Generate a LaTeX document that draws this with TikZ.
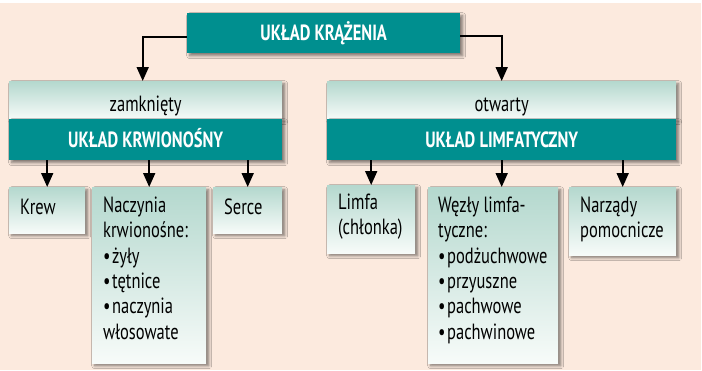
\documentclass[tikz,border=0pt]{standalone}
\usepackage{fontspec}
\setmainfont{PT Sans}[FakeStretch=0.75]
\usetikzlibrary{arrows.meta, shadows.blur}
\definecolor{turkus}{RGB}{0,143,143}
\definecolor{jasny}{RGB}{180,216,206}
\definecolor{biel}{RGB}{247,251,249}
\definecolor{tlo}{RGB}{252,234,222}
\newcommand{\zwykly}{\fontsize{22}{25.3}\selectfont}
\newcommand{\kropka}{•\kern1.5pt}
\tikzset{
	cien/.style={blur shadow={shadow xshift=2.5pt, shadow yshift=-2.5pt, shadow blur radius=3pt, shadow opacity=50}},
	ciemny/.style={cien, fill=turkus, text=white, font=\zwykly\bfseries, inner sep=0, anchor=north west, text height=15pt, text depth=0pt},
	jasnyblok/.style={cien, top color=jasny, bottom color=biel, inner sep=0, anchor=north west},
	naglowek/.style={jasnyblok, font=\zwykly, text height=23pt, text depth=0pt},
	opis/.style={font=\zwykly, align=left, inner sep=0, anchor=north west, execute at begin node=\strut},
	strzalka/.style={-{Triangle[width=12pt,length=14pt]}, line width=1.8pt}
}
\begin{document}
\begin{tikzpicture}[x=1pt, y=-1pt]
	\fill[white] (0,0) rectangle (702,370);
	\fill[tlo] (0,3) rectangle (701,370);

	\node[ciemny, minimum width=273pt, minimum height=40pt] (krazenie) at (187,13) {UKŁAD KRĄŻENIA};

	\node[naglowek, minimum width=273pt, minimum height=38pt] (zamk) at (9,81) {zamknięty};
	\node[ciemny, minimum width=273pt, minimum height=41pt] (krwio) at (9,119) {UKŁAD KRWIONOŚNY};
	\node[naglowek, minimum width=349pt, minimum height=38pt] (otw) at (327,81) {otwarty};
	\node[ciemny, minimum width=349pt, minimum height=41pt] (limf) at (327,119) {UKŁAD LIMFATYCZNY};

	\node[jasnyblok, minimum width=76pt, minimum height=46pt] (krew) at (9,187) {};
	\node[jasnyblok, minimum width=114pt, minimum height=176pt] (naczynia) at (92,187) {};
	\node[jasnyblok, minimum width=69pt, minimum height=46pt] (serce) at (213,187) {};
	\node[jasnyblok, minimum width=88pt, minimum height=68pt] (limfa) at (327,185) {};
	\node[jasnyblok, minimum width=130pt, minimum height=176pt] (wezly) at (428,187) {};
	\node[jasnyblok, minimum width=107pt, minimum height=68pt] (narzady) at (569,187) {};

	\node[opis] (krewtxt) at ([shift={(11pt,-9.8pt)}]krew.north west) {Krew};
	\node[opis] (naczyniatxt) at ([shift={(11pt,-9.8pt)}]naczynia.north west) {Naczynia\\krwionośne:\\\kropka żyły\\\kropka tętnice\\\kropka naczynia\\włosowate};
	\node[opis] (sercetxt) at ([shift={(11pt,-9.8pt)}]serce.north west) {Serce};
	\node[opis] (limfatxt) at ([shift={(11pt,-8.5pt)}]limfa.north west) {Limfa\\(chłonka)};
	\node[opis] (wezlytxt) at ([shift={(10pt,-9.8pt)}]wezly.north west) {Węzły limfa-\\tyczne:\\\kropka podżuchwowe\\\kropka przyuszne\\\kropka pachwowe\\\kropka pachwinowe};
	\node[opis] (narzadytxt) at ([shift={(11pt,-9.8pt)}]narzady.north west) {Narządy\\pomocnicze};

	\draw[strzalka] ([yshift=-4pt]krazenie.west) -| ([xshift=-3pt]zamk.north);
	\draw[strzalka] ([yshift=-3pt]krazenie.east) -| (otw.north);

	\draw[strzalka] (krwio.south -| krew.north) -- (krew.north);
	\draw[strzalka] (krwio.south -| naczynia.north) -- (naczynia.north);
	\draw[strzalka] (krwio.south -| serce.north) -- (serce.north);
	\draw[strzalka] (limf.south -| limfa.north) -- (limfa.north);
	\draw[strzalka] (limf.south) -- (limf.south |- wezly.north);
	\draw[strzalka] (limf.south -| narzady.north) -- (narzady.north);
\end{tikzpicture}
\end{document}
